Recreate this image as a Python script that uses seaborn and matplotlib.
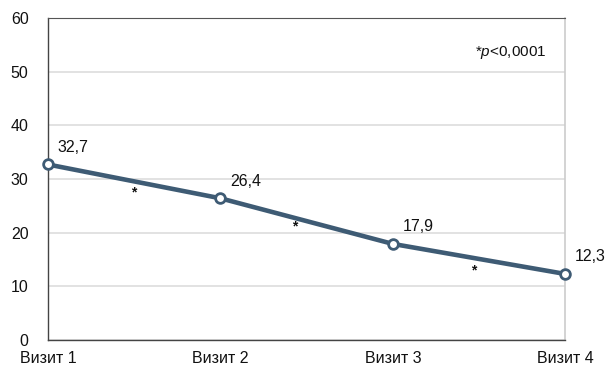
import numpy as np
import pandas as pd
import seaborn as sns
import matplotlib.pyplot as plt

# data
visits = ["Визит 1", "Визит 2", "Визит 3", "Визит 4"]
values = [32.7, 26.4, 17.9, 12.3]
value_labels = ["32,7", "26,4", "17,9", "12,3"]
# significance stars between visits (x in visit units, y in data units)
star_x = [0.5, 1.43, 2.47]
star_y = [27.4, 21.1, 13.0]
y_ticks = [0, 10, 20, 30, 40, 50, 60]

df = pd.DataFrame({"pos": np.arange(len(visits)), "value": values})

sns.set_style("white")
plt.rcParams["font.family"] = ["Liberation Sans", "DejaVu Sans"]
plt.rcParams["mathtext.fontset"] = "custom"
plt.rcParams["mathtext.it"] = "Liberation Sans:italic"
plt.rcParams["mathtext.rm"] = "Liberation Sans"

line_color = "#3e5b74"

fig = plt.figure(figsize=(6.05, 3.71), dpi=100)
ax = fig.add_axes([0.0793, 0.0836, 0.855, 0.868])

sns.lineplot(
    data=df, x="pos", y="value",
    color=line_color, linewidth=3.3,
    marker="o", markersize=7, markerfacecolor="white",
    markeredgecolor=line_color, markeredgewidth=2,
    ax=ax, zorder=3, clip_on=False,
)

for x, v, lab in zip(df["pos"], values, value_labels):
    ax.annotate(lab, (x, v), xytext=(7, 7), textcoords="offset points",
                fontsize=11.5, ha="left", va="bottom", color="#111111")

for x, y in zip(star_x, star_y):
    ax.text(x, y, "*", fontsize=10, fontweight="bold", ha="center",
            va="center", color="#111111")

ax.text(0.963, 0.893, "*$p$<0,0001", transform=ax.transAxes,
        fontsize=11, ha="right", va="center", color="#111111")

ax.set_xlim(0, 3)
ax.set_ylim(0, 60)
ax.set_yticks(y_ticks)
ax.set_xticks(df["pos"])
ax.set_xticklabels(visits)
ax.set_xlabel("")
ax.set_ylabel("")
ax.tick_params(axis="both", length=0, labelsize=11.5, colors="#111111")
ax.tick_params(axis="y", pad=14)
ax.tick_params(axis="x", pad=8)

ax.grid(axis="y", color="#dddddd", linewidth=1.2)
ax.set_axisbelow(True)
for side in ["left", "bottom"]:
    ax.spines[side].set_color("#444444")
    ax.spines[side].set_linewidth(1)
ax.spines["top"].set_color("#555555")
ax.spines["top"].set_linewidth(0.8)
ax.spines["right"].set_color("#cccccc")
ax.spines["right"].set_linewidth(1.2)

plt.savefig("out.png", dpi=100)
plt.close(fig)
